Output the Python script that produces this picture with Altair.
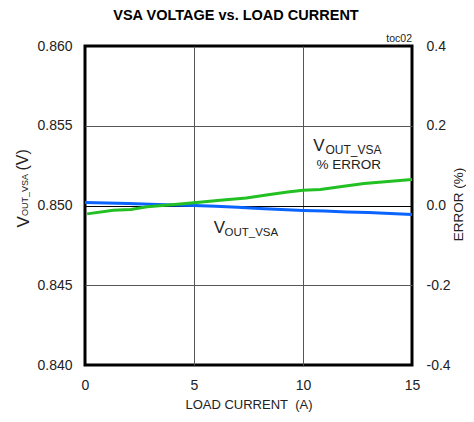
import altair as alt
import pandas as pd

# ---- data ----
v_current = [0, 1, 2, 3, 4, 5, 6, 7, 8, 9, 10, 11, 12, 13, 14, 15]
v_out = [0.85019, 0.85016, 0.85013, 0.85008, 0.85003, 0.85000, 0.84995, 0.84989,
         0.84981, 0.84975, 0.84969, 0.84965, 0.84960, 0.84956, 0.84950, 0.84943]

e_current = [0.1, 1.3, 2.1, 2.85, 4.1, 5.0, 6.2, 7.4, 8.4, 9.3, 10.0, 10.8, 11.7, 12.8, 13.9, 15.0]
e_error = [-0.021, -0.012, -0.010, -0.003, 0.0025, 0.007, 0.013, 0.019, 0.027, 0.034,
           0.038, 0.040, 0.047, 0.055, 0.060, 0.065]

x_ticks = [0, 5, 10, 15]
v_ticks = [0.840, 0.845, 0.850, 0.855, 0.860]
e_ticks = [-0.4, -0.2, 0.0, 0.2, 0.4]

title_text = "VSA VOLTAGE vs. LOAD CURRENT"
x_title = "LOAD CURRENT\u00a0 (A)"
right_title = "ERROR (%)"
left_title = ["V", "OUT_VSA", "(V)"]
ann_v = ["V", "OUT_VSA"]
ann_err = ["V", "OUT_VSA", "% ERROR"]
tag = "toc02"

W, H = 327, 319
FONT = "Liberation Sans, Arial, Helvetica, sans-serif"

dfv = pd.DataFrame({"current": v_current, "vout": v_out})
dfe = pd.DataFrame({"current": e_current, "err": e_error})

x_enc = alt.X(
    "current:Q",
    scale=alt.Scale(domain=[0, 15], nice=False),
    axis=alt.Axis(
        values=x_ticks, labelFlush=False, ticks=False, domain=False,
        labelPadding=13, labelFontSize=14, labelFont=FONT, labelColor="#222",
        grid=True, gridColor="#555", gridWidth=1,
        gridOpacity={"condition": {"test": "datum.value === 0 || datum.value === 15", "value": 0}, "value": 1},
        title=x_title, titleFont=FONT, titleFontSize=13, titleFontWeight="normal",
        titleColor="#222", titlePadding=6,
    ),
)

blue = alt.Chart(dfv).mark_line(color="#0a64ff", strokeWidth=3).encode(
    x=x_enc,
    y=alt.Y(
        "vout:Q",
        scale=alt.Scale(domain=[0.840, 0.860], nice=False, zero=False),
        axis=alt.Axis(
            orient="left", values=v_ticks, format=".3f", ticks=False, domain=False,
            labelPadding=13, labelFontSize=14, labelFont=FONT, labelColor="#222",
            grid=True,
            gridColor={"condition": {"test": "abs(datum.value - 0.85) < 1e-9", "value": "#000000"}, "value": "#555555"},
            gridOpacity={"condition": {"test": "datum.value < 0.8401 || datum.value > 0.8599", "value": 0}, "value": 1},
            title=None,
        ),
    ),
)

green = alt.Chart(dfe).mark_line(color="#22c022", strokeWidth=3).encode(
    x=x_enc,
    y=alt.Y(
        "err:Q",
        scale=alt.Scale(domain=[-0.4, 0.4], nice=False, zero=False),
        axis=alt.Axis(
            orient="right", values=e_ticks, ticks=False, domain=False, grid=False,
            labelExpr="datum.value < 0 ? '-' + format(-datum.value, '.1f') : format(datum.value, '.1f')",
            labelPadding=14, labelFontSize=14, labelFont=FONT, labelColor="#222",
            title=None,
        ),
    ),
)


def txt(s, x, y, size, weight="normal", align="left", angle=0, color="#222"):
    return alt.Chart(pd.DataFrame({"t": [s]})).mark_text(
        align=align, baseline="alphabetic", fontSize=size, font=FONT,
        fontWeight=weight, angle=angle, color=color,
    ).encode(text="t:N", x=alt.value(x), y=alt.value(y))


texts = [
    txt(title_text, 151, -26.5, 14.5, weight="bold", align="center", color="#000"),
    txt(tag, W, -4, 10.5, align="right"),
    # left axis title (rotated, with subscript)
    txt(left_title[0], -56.5, 181.5, 17, angle=270),
    txt(left_title[1], -57, 170, 9, angle=270),
    txt(left_title[2], -57.5, 124.5, 16, angle=270),
    # right axis title
    txt(right_title, 377.5, 158.5, 13.5, align="center", angle=270),
    # in-plot annotations
    txt(ann_err[0], 228.2, 105, 17),
    txt(ann_err[1], 240.5, 108, 12),
    txt(ann_err[2], 231.5, 122.5, 13.5),
    txt(ann_v[0], 128.8, 186.5, 17),
    txt(ann_v[1], 139.5, 190.2, 11.5),
]

chart = (
    alt.layer(blue, green, *texts)
    .resolve_scale(y="independent")
    .properties(
        width=W, height=H,
        padding={"left": 77, "top": 38, "right": 54, "bottom": 49},
        autosize=alt.AutoSizeParams(type="none"),
        background="white",
    )
    .configure_view(stroke="black", strokeWidth=3)
)

chart.save("out.html", embed_options={"renderer": "svg", "actions": False})
